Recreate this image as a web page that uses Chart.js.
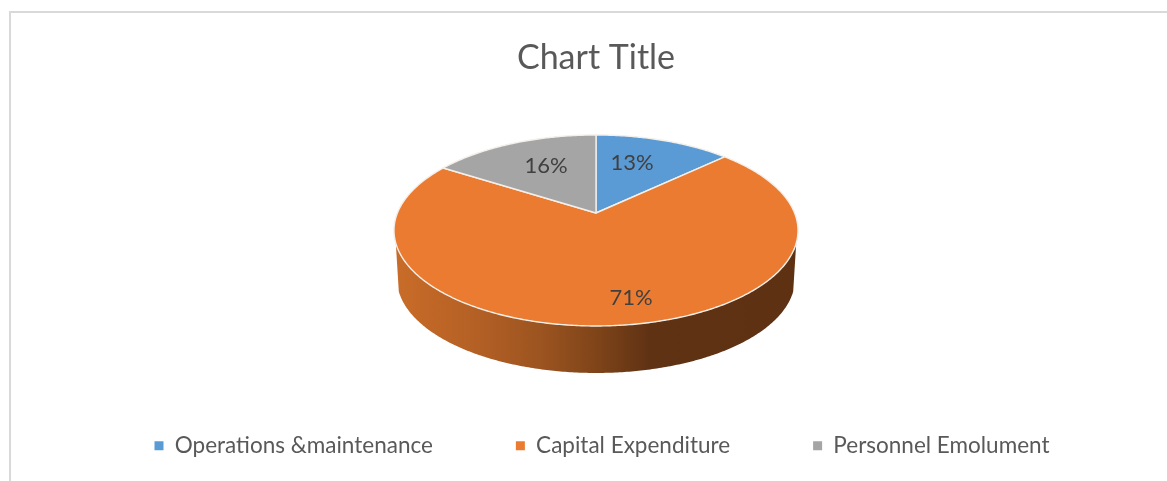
<!DOCTYPE html>
<html><head><meta charset="utf-8">
<style>
html,body{margin:0;padding:0;background:#fff;overflow:hidden;width:1167px;height:481px}
#frame{position:absolute;left:9px;top:11px;width:1172px;height:470px;border-top:2px solid #d9d9d9;border-left:2px solid #d9d9d9;box-sizing:border-box}
#c{position:absolute;left:0;top:0;filter:blur(0.4px)}
</style>
<script src="https://cdn.jsdelivr.net/npm/chart.js@4"></script>
</head><body>
<div id="frame"><canvas id="c" width="1170" height="468" style="width:1170px;height:468px"></canvas></div>
<script>
const categories = ["Operations &maintenance", "Capital Expenditure", "Personnel Emolument"];
const shareValues = [13, 71, 16];
const sliceColors = ["#5B9BD5", "#EB7B30", "#A5A5A5"];
const chartTitle = "Chart Title";

// perspective of the tilted disc (page pixels)
const OFF_X = 11, OFF_Y = 13, APEX_Y = 213, K = 0.183, A = 198.6, B = 92.3, DEPTH = 48.7, LOW_SCALE = 0.985;
const SIDE_FROM = 108 * Math.PI / 180, SIDE_TO = 252 * Math.PI / 180;
const LABEL_CENTRES = [[632, 163], [631, 298], [546, 166]];

function project(cx, theta, r, low) {
  const s = low ? LOW_SCALE : 1;
  const u = Math.sin(theta) * r, v = Math.cos(theta) * r, d = 1 + K * v;
  return [cx + A * s * u / d, APEX_Y + (low ? DEPTH : 0) - B * s * v / d];
}
function tracePoints(ctx, cx, a, b, low, first) {
  const n = Math.max(2, Math.ceil(Math.abs(b - a) / 0.01));
  for (let i = 0; i <= n; i++) {
    const p = project(cx, a + (b - a) * i / n, 1, low);
    if (i === 0 && first) ctx.moveTo(p[0], p[1]); else ctx.lineTo(p[0], p[1]);
  }
}
const pie3d = {
  id: "pie3d",
  afterLayout(chart) {
    chart.legend.left += 6; chart.legend.right += 6;
  },
  beforeDatasetDraw(chart, args) {
    const ctx = chart.ctx, arcs = chart.getDatasetMeta(args.index).data;
    const cx = arcs[0].x + OFF_X;
    ctx.save();
    ctx.translate(-OFF_X, -OFF_Y);
    // side wall
    const g = ctx.createLinearGradient(395, 0, 798, 0);
    [[0, "#c96c28"], [0.2, "#b46025"], [0.36, "#9c5420"], [0.5, "#7f4419"], [0.63, "#603214"], [1, "#5e3113"]]
      .forEach(s => g.addColorStop(s[0], s[1]));
    ctx.beginPath();
    tracePoints(ctx, cx, SIDE_FROM, SIDE_TO, false, true);
    tracePoints(ctx, cx, SIDE_TO, SIDE_FROM, true, false);
    ctx.closePath();
    ctx.fillStyle = g; ctx.fill();
    // top faces
    ctx.lineJoin = "round";
    arcs.forEach((el, i) => {
      const a = el.startAngle + Math.PI / 2, b = el.endAngle + Math.PI / 2;
      ctx.beginPath();
      ctx.moveTo(cx, APEX_Y);
      tracePoints(ctx, cx, a, b, false, false);
      ctx.closePath();
      ctx.fillStyle = sliceColors[i]; ctx.fill();
      ctx.strokeStyle = "#f4efe9"; ctx.lineWidth = 1.4; ctx.stroke();
    });
    // percentage labels
    const total = shareValues.reduce((x, y) => x + y, 0);
    ctx.font = "22px Lato"; ctx.fillStyle = "#404040";
    ctx.textAlign = "center"; ctx.textBaseline = "middle";
    shareValues.forEach((v, i) => {
      ctx.fillText(Math.round(v / total * 100) + "%", LABEL_CENTRES[i][0], LABEL_CENTRES[i][1]);
    });
    ctx.restore();
    return false;
  }
};
new Chart(document.getElementById("c"), {
  type: "pie",
  data: { labels: categories, datasets: [{ data: shareValues, backgroundColor: sliceColors, borderWidth: 0 }] },
  plugins: [pie3d],
  options: {
    responsive: false, animation: false,
    layout: { padding: { bottom: 14 } },
    plugins: {
      tooltip: { enabled: false },
      title: { display: true, text: chartTitle, color: "#595959", font: { family: "Lato", size: 34, weight: "normal" }, padding: { top: 25, bottom: 10 } },
      legend: { position: "bottom", labels: { color: "#595959", boxWidth: 9, boxHeight: 9, padding: 83, font: { family: "Lato", size: 22.5 } } }
    }
  }
});
</script>
</body></html>
